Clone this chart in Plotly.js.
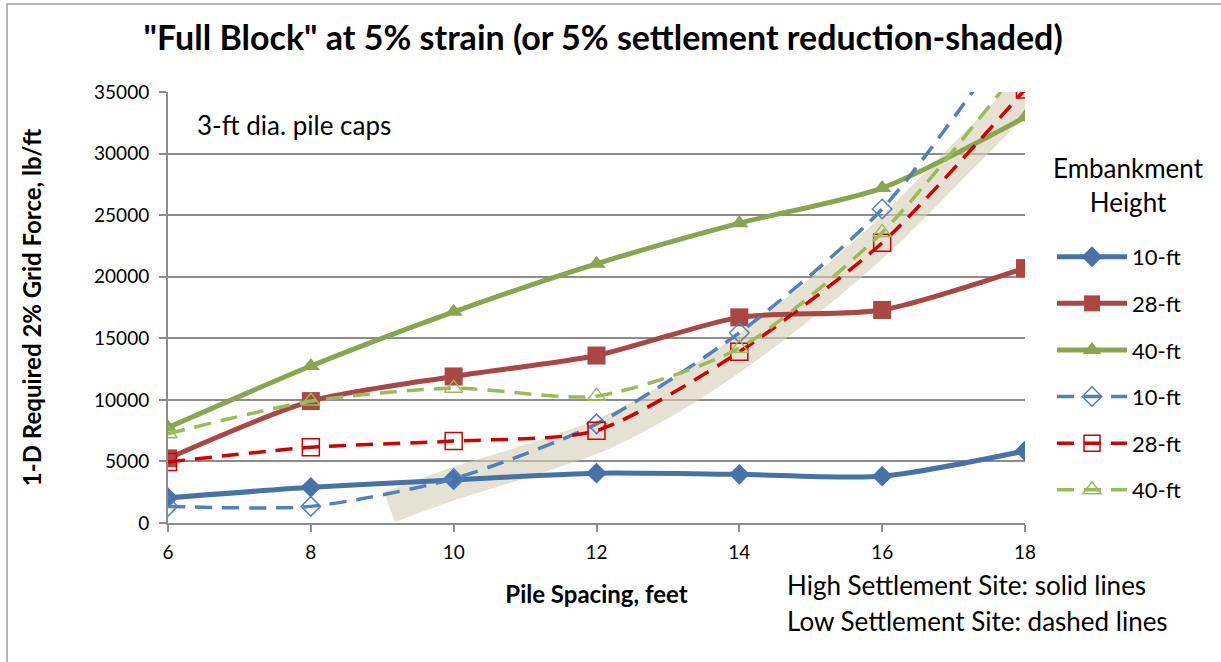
<!DOCTYPE html>
<html>
<head>
<meta charset="utf-8">
<script src="https://cdn.plot.ly/plotly-3.0.1.min.js"></script>
<style>html,body{margin:0;padding:0;background:#fff;}#chart{width:1221px;height:662px;}</style>
</head>
<body>
<div id="chart"></div>
<script>
// Pile spacing (feet)
var spacing = [6, 8, 10, 12, 14, 16, 18];
// High settlement site (solid lines)
var high10 = [2050, 2900, 3500, 4050, 3950, 3800, 5850];
var high28 = [5250, 9900, 11900, 13600, 16700, 17300, 20700];
var high40 = [7750, 12750, 17150, 21050, 24350, 27200, 32950];
// Low settlement site (dashed lines)
var low10 = [1350, 1350, 3600, 8050, 15450, 25500, 41000];
var low28 = [4950, 6150, 6650, 7500, 13900, 22750, 35200];
var low40 = [7250, 9900, 10950, 10300, 14200, 23600, 37500];
// 5% settlement reduction shaded band (center line)
var bandX = [9.1, 10, 11, 12, 13, 14, 15, 16, 17, 18, 18.3];
var bandY = [1300, 3200, 5000, 7000, 10000, 13800, 18200, 23200, 29000, 35000, 37500];

var FONT = 'Lato, "Open Sans", sans-serif';

var traces = [
  {x: bandX, y: bandY, mode: 'lines', line: {color: 'rgba(214,206,182,0.6)', width: 32, shape: 'spline', smoothing: 0.8}, showlegend: false, hoverinfo: 'skip'},
  {x: spacing, y: high10, name: '10-ft', legendgroup: 'a', mode: 'lines+markers', line: {color: '#4572A7', width: 5, shape: 'spline', smoothing: 0.7}, marker: {symbol: 'diamond', size: 16, color: '#4572A7'}},
  {x: spacing, y: high28, name: '28-ft', legendgroup: 'b', mode: 'lines+markers', line: {color: '#AA4643', width: 5, shape: 'spline', smoothing: 0.7}, marker: {symbol: 'square', size: 18, color: '#AA4643'}},
  {x: spacing, y: high40, name: '40-ft', legendgroup: 'c', mode: 'lines+markers', line: {color: '#89A54E', width: 5, shape: 'spline', smoothing: 0.7}, marker: {symbol: 'triangle-up', size: 16, color: '#89A54E'}},
  {x: spacing, y: low10, name: '10-ft', legendgroup: 'd', mode: 'lines+markers', line: {color: '#4F81BD', width: 3.5, dash: '17px,10px', shape: 'spline', smoothing: 0.7}, marker: {symbol: 'diamond-open', size: 15, color: '#4F81BD', line: {width: 1.5}}},
  {x: spacing, y: low28, name: '28-ft', legendgroup: 'e', mode: 'lines+markers', line: {color: '#D20000', width: 3.5, dash: '17px,10px', shape: 'spline', smoothing: 0.7}, marker: {symbol: 'square-open', size: 17, color: '#D20000', line: {width: 1.5}}},
  {x: spacing, y: low40, name: '40-ft', legendgroup: 'f', mode: 'lines+markers', line: {color: '#9BBB59', width: 3.5, dash: '17px,10px', shape: 'spline', smoothing: 0.7}, marker: {symbol: 'triangle-up-open', size: 16, color: '#9BBB59', line: {width: 1.5}}}
];

var layout = {
  width: 1221, height: 662,
  margin: {l: 168, r: 196, t: 92, b: 139, autoexpand: false},
  paper_bgcolor: '#fff', plot_bgcolor: '#fff',
  font: {family: FONT, color: '#000', size: 18},
  title: {text: '"Full Block" at 5% strain (or 5% settlement reduction-shaded)', font: {family: FONT, size: 34, color: '#000', weight: 'bold'}, x: 0.494, xanchor: 'center', y: 0.943, yanchor: 'middle'},
  xaxis: {
    range: [6, 18], tickvals: spacing, ticktext: spacing.map(String),
    showgrid: false, zeroline: false, showline: true, linecolor: '#8c8c8c', linewidth: 2,
    ticks: 'outside', ticklen: 7, tickwidth: 2, tickcolor: '#8c8c8c', ticklabelstandoff: 4,
    tickfont: {family: FONT, size: 19, color: '#000'},
    title: {text: 'Pile Spacing, feet', font: {family: FONT, size: 24, color: '#000', weight: 'bold'}, standoff: 24}
  },
  yaxis: {
    range: [0, 35000], dtick: 5000, tick0: 0, tickformat: 'd',
    showgrid: true, gridcolor: '#8c8c8c', gridwidth: 2, zeroline: false,
    showline: true, linecolor: '#8c8c8c', linewidth: 2,
    ticks: 'outside', ticklen: 7, tickwidth: 2, tickcolor: '#8c8c8c', ticklabelstandoff: 6,
    tickfont: {family: FONT, size: 19, color: '#000'},
    title: {text: '1-D Required 2% Grid Force, lb/ft', font: {family: FONT, size: 24, color: '#000', weight: 'bold'}, standoff: 46}
  },
  legend: {
    x: 1.0315, xanchor: 'left', y: 0.666, yanchor: 'top',
    font: {family: FONT, size: 22, color: '#000'},
    traceorder: 'grouped', tracegroupgap: 15, itemwidth: 70,
    bgcolor: 'rgba(0,0,0,0)'
  },
  annotations: [
    {text: 'Embankment<br>Height', xref: 'paper', yref: 'paper', x: 1.1205, y: 0.784, xanchor: 'center', yanchor: 'middle', align: 'center', showarrow: false, font: {family: FONT, size: 26, color: '#000'}},
    {text: '3-ft dia. pile caps', xref: 'paper', yref: 'paper', x: 0.031, y: 0.923, xanchor: 'left', yanchor: 'middle', showarrow: false, font: {family: FONT, size: 26, color: '#000'}},
    {text: 'High Settlement Site: solid lines', xref: 'paper', yref: 'paper', x: 0.72, y: -0.144, xanchor: 'left', yanchor: 'middle', showarrow: false, font: {family: FONT, size: 26, color: '#000'}},
    {text: 'Low Settlement Site: dashed lines', xref: 'paper', yref: 'paper', x: 0.72, y: -0.228, xanchor: 'left', yanchor: 'middle', showarrow: false, font: {family: FONT, size: 26, color: '#000'}}
  ],
  shapes: [
    {type: 'rect', xref: 'paper', yref: 'paper', x0: -0.1878, x1: 1.3, y0: -0.4, y1: 1.204, line: {color: '#a0a0a0', width: 1.5}, fillcolor: 'rgba(0,0,0,0)', layer: 'below'}
  ],
  showlegend: true
};

Plotly.newPlot('chart', traces, layout, {displayModeBar: false, staticPlot: true});
</script>
</body>
</html>
